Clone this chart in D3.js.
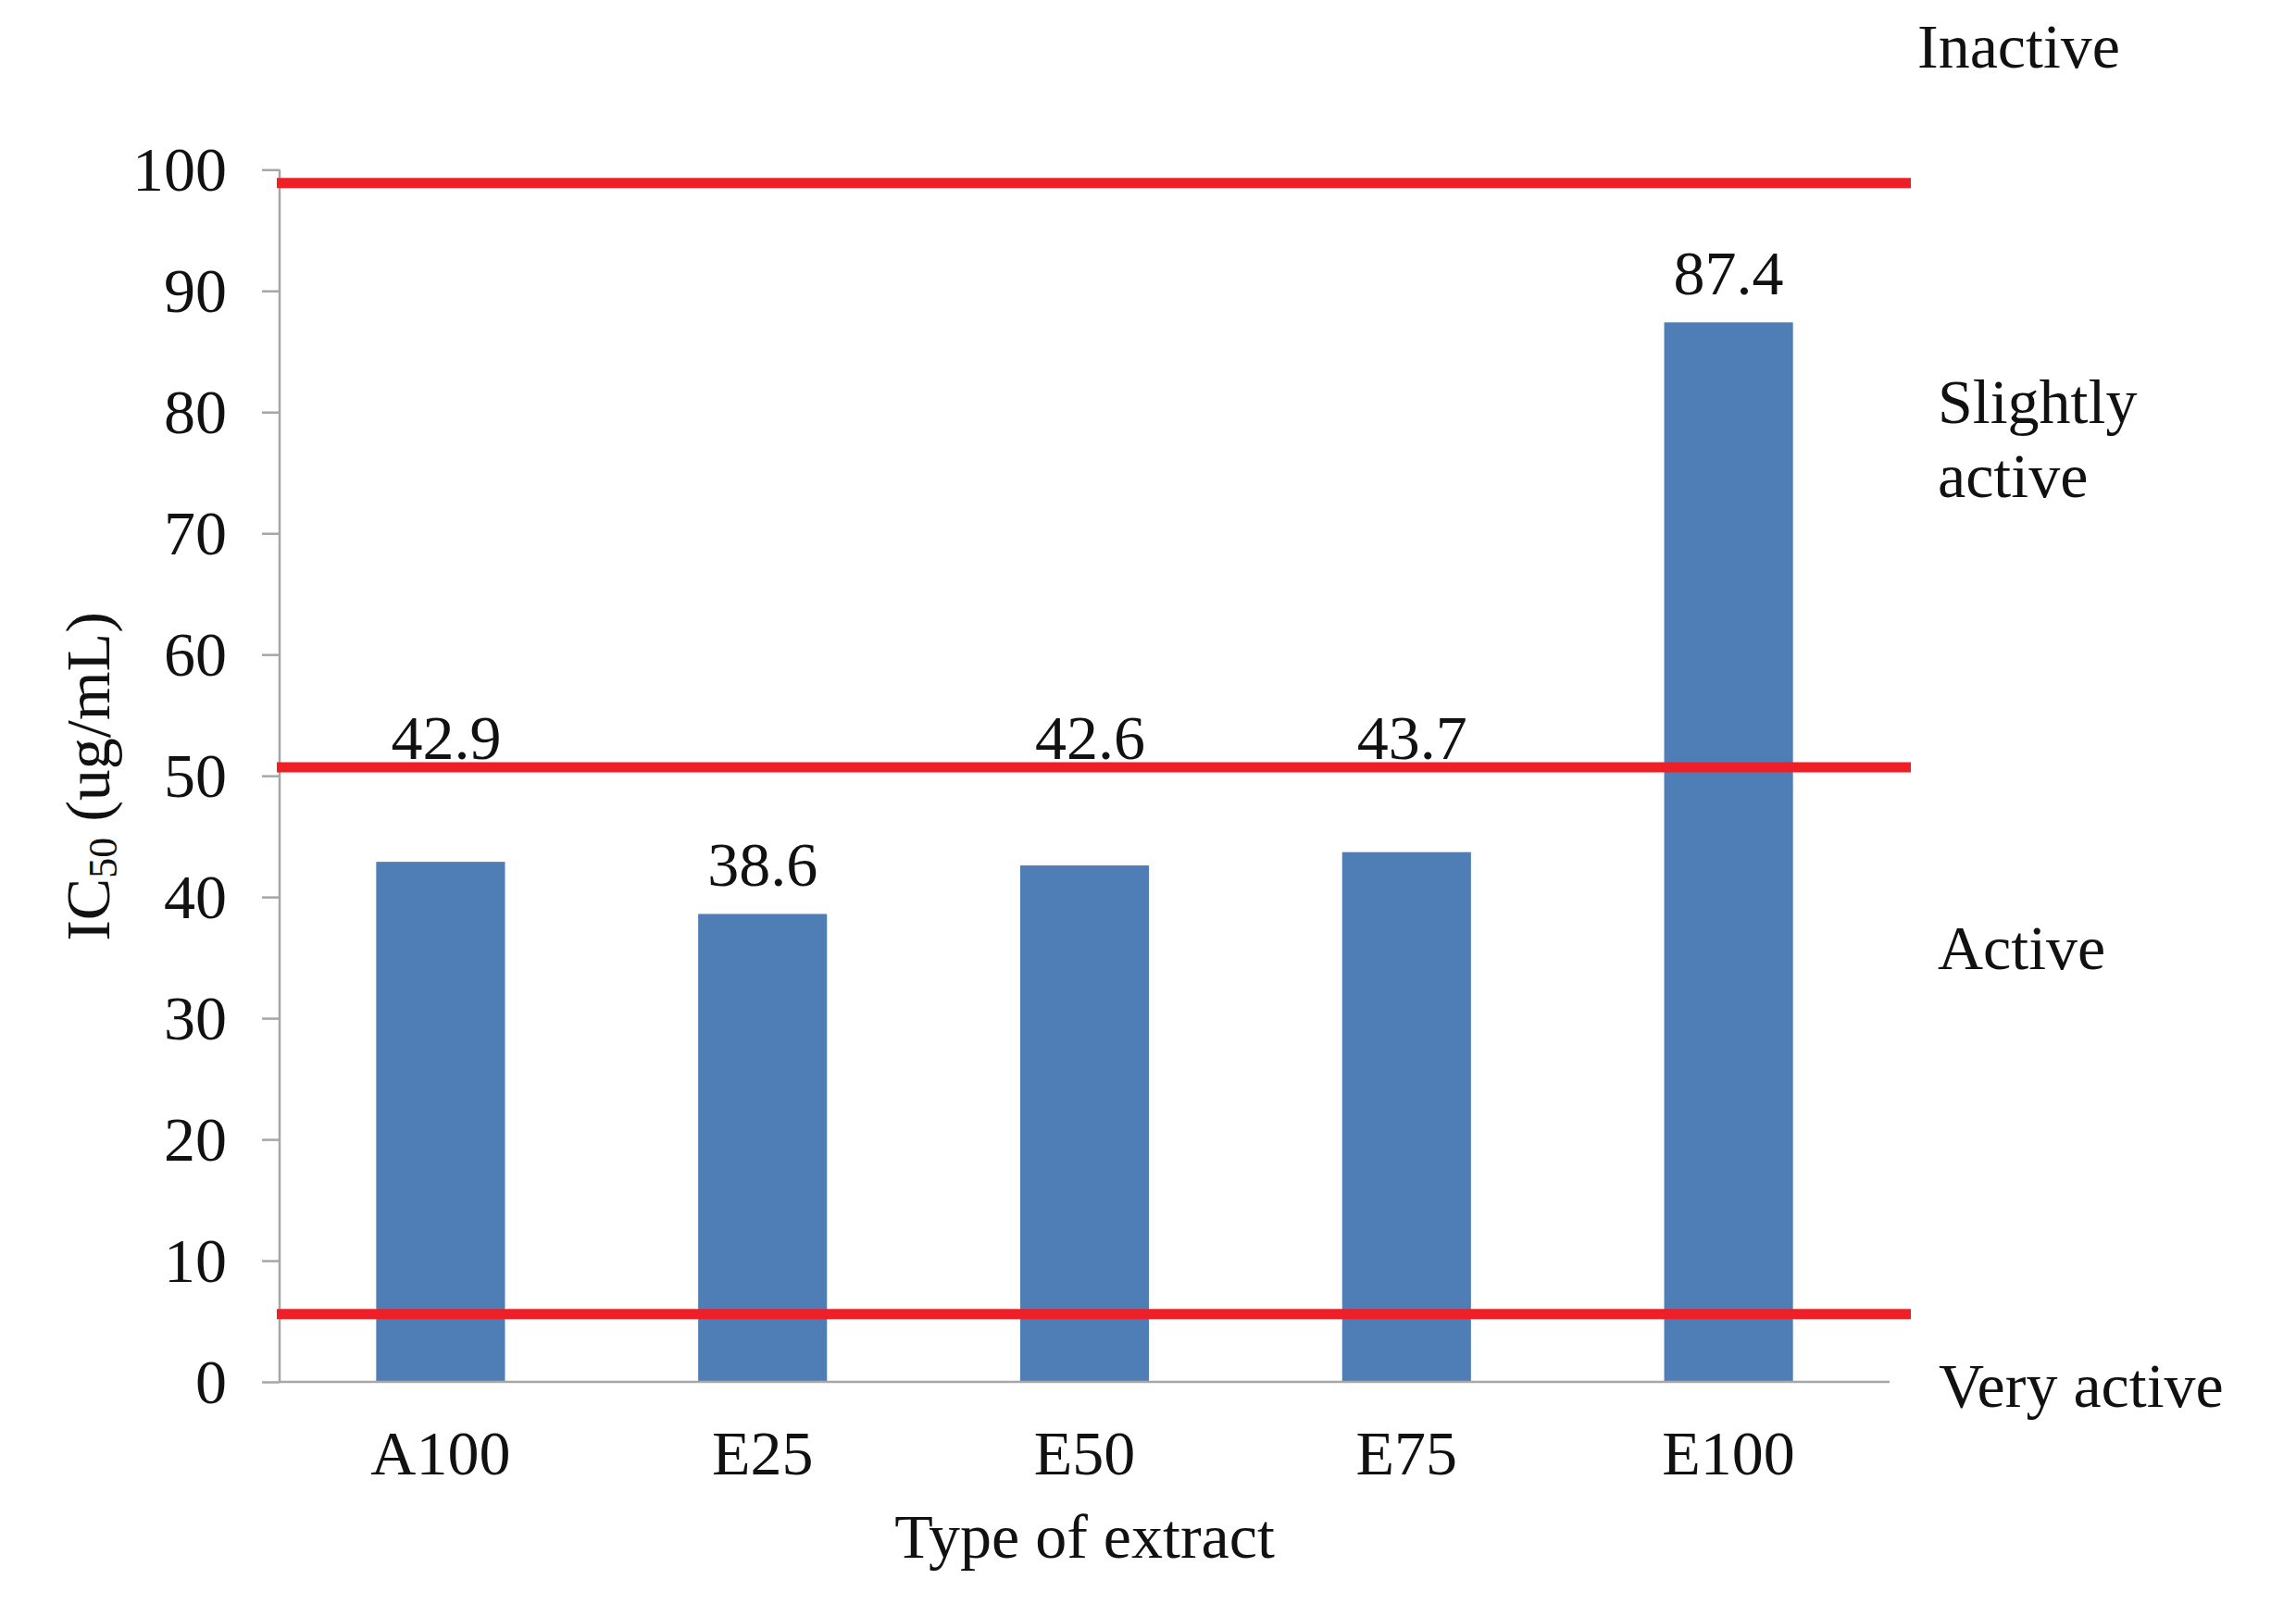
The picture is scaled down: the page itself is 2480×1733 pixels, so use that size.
<!DOCTYPE html>
<html>
<head>
<meta charset="utf-8">
<script src="https://cdn.jsdelivr.net/npm/d3@7"></script>
<style>
  html, body { margin: 0; padding: 0; background: #ffffff; }
  svg { display: block; }
  text { font-family: "Liberation Serif", "DejaVu Serif", serif; fill: #111; }
</style>
</head>
<body>
<svg id="chart" width="2480" height="1733"></svg>
<script>
// ---- data ----
const categories = ["A100", "E25", "E50", "E75", "E100"];
const ic50Values = [42.9, 38.6, 42.6, 43.7, 87.4];
const yTicks = [0, 10, 20, 30, 40, 50, 60, 70, 80, 90, 100];
const thresholdValues = [98.9, 50.7, 5.6];
const zoneLabels = [["Inactive"], ["Slightly", "active"], ["Active"], ["Very active"]];
const xTitle = "Type of extract";

// ---- layout ----
const svg = d3.select("#chart");
const plotLeft = 302, plotRight = 2041, plotTop = 183.3, plotBottom = 1493;
const fontSize = 68;
const axisColor = "#a6a6a6";
const barColor = "#4f7db6";
const lineColor = "#ee1f26";

const x = d3.scaleBand().domain(categories).range([plotLeft, plotRight])
  .paddingInner(0.6).paddingOuter(0.3);
const y = d3.scaleLinear().domain([0, 100]).range([plotBottom, plotTop]);

// bars
svg.append("g").selectAll("rect").data(categories).join("rect")
  .attr("x", d => x(d))
  .attr("width", x.bandwidth())
  .attr("y", (d, i) => y(ic50Values[i]))
  .attr("height", (d, i) => y(0) - y(ic50Values[i]))
  .attr("fill", barColor);

// y axis
const yAxis = d3.axisLeft(y).tickValues(yTicks).tickSize(19).tickPadding(38)
  .tickFormat(d3.format("d"));
const gy = svg.append("g").attr("transform", `translate(${plotLeft},0)`).call(yAxis);
gy.select(".domain").attr("stroke", axisColor).attr("stroke-width", 2.5)
  .attr("d", `M0,${plotTop}V${plotBottom}`);
gy.selectAll(".tick line").attr("stroke", axisColor).attr("stroke-width", 2.5);
gy.selectAll(".tick text").attr("font-size", fontSize)
  .attr("font-family", "Liberation Serif").attr("fill", "#111").attr("dy", "0.33em");

// x axis
const xAxis = d3.axisBottom(x).tickSize(0).tickPadding(0);
const gx = svg.append("g").attr("transform", `translate(0,${plotBottom})`).call(xAxis);
gx.select(".domain").attr("stroke", axisColor).attr("stroke-width", 2.5)
  .attr("d", `M${plotLeft},0H${plotRight}`);
gx.selectAll(".tick text").attr("font-size", fontSize)
  .attr("font-family", "Liberation Serif").attr("fill", "#111")
  .attr("y", 100).attr("dy", 0);

// threshold lines
svg.append("g").selectAll("line").data(thresholdValues).join("line")
  .attr("x1", plotLeft - 3).attr("x2", 2064)
  .attr("y1", d => y(d)).attr("y2", d => y(d))
  .attr("stroke", lineColor).attr("stroke-width", 11);

// value labels (moved above a threshold line when they would crowd it)
const gap = 30, textH = 46, lineHalf = 5.5;
function labelPlace(v) {
  let b = y(v) - gap, moved = false;
  for (const t of thresholdValues) {
    const ly = y(t);
    const topEdge = b - textH;
    if (topEdge > ly && topEdge - (ly + lineHalf) < 40) {
      b = ly - 9; moved = true;
    }
  }
  return { b, dx: moved ? 6 : 0 };
}
svg.append("g").selectAll("text").data(categories).join("text")
  .attr("x", (d, i) => x(d) + x.bandwidth() / 2 + labelPlace(ic50Values[i]).dx)
  .attr("y", (d, i) => labelPlace(ic50Values[i]).b)
  .attr("text-anchor", "middle")
  .attr("font-size", fontSize)
  .text((d, i) => d3.format(".1f")(ic50Values[i]));

// zone labels on the right
const zonePos = [[2071, 73], [2093, 457], [2093, 1047], [2094, 1520]];
zoneLabels.forEach((lines, i) => {
  const t = svg.append("text")
    .attr("x", zonePos[i][0]).attr("y", zonePos[i][1])
    .attr("font-size", fontSize);
  lines.forEach((ln, j) => {
    t.append("tspan").attr("x", zonePos[i][0]).attr("dy", j === 0 ? 0 : 80).text(ln);
  });
});

// x title
svg.append("text")
  .attr("x", (plotLeft + plotRight) / 2).attr("y", 1683)
  .attr("text-anchor", "middle").attr("font-size", fontSize)
  .text(xTitle);

// y title
const yt = svg.append("text")
  .attr("transform", `translate(118,839) rotate(-90)`)
  .attr("text-anchor", "middle").attr("font-size", fontSize);
yt.append("tspan").text("IC");
yt.append("tspan").attr("font-size", 44).attr("dy", 8).text("50");
yt.append("tspan").attr("dy", -8).text(" (ug/mL)");
</script>
</body>
</html>
